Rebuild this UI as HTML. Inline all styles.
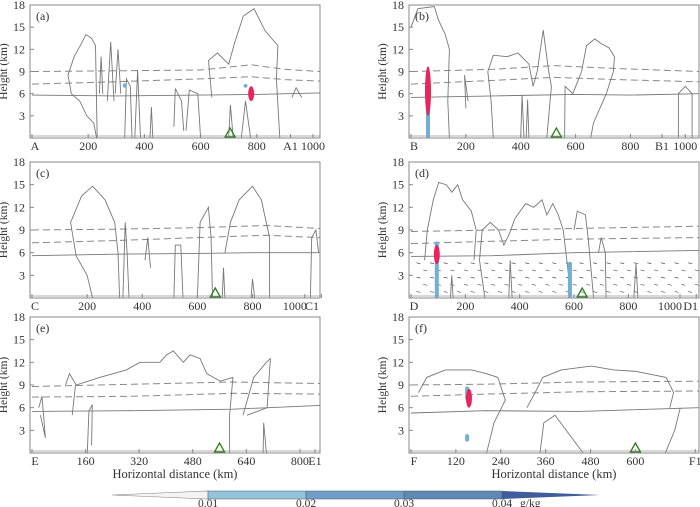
<!DOCTYPE html>
<html><head><meta charset="utf-8"><style>
html,body{margin:0;padding:0;background:#fff;}
svg{display:block;font-family:"Liberation Serif",serif;}
</style></head><body>
<svg id="fig" width="700" height="507" viewBox="0 0 700 507" xmlns="http://www.w3.org/2000/svg"></svg>
<script>
// ---- data ----
const panelNames = ['a','b','c','d','e','f'];
const panelXMax = [1025, 1050, 1045, 1060, 860, 770];
const tickKm = {
  a:[0,200,400,600,800,920,1000], b:[0,200,400,600,800,915,1000], c:[0,200,400,600,800,990,1050],
  d:[0,200,400,600,800,990,1050], e:[0,160,320,480,640,800,845], f:[0,120,240,360,480,600,760]};
const tickLabels = {
  a:['A','200','400','600','800','A1','1000'], b:['B','200','400','600','800','B1','1000'],
  c:['C','200','400','600','800','1000','C1'], d:['D','200','400','600','800','1000','D1'],
  e:['E','160','320','480','640','800','E1'], f:['F','120','240','360','480','600','F1']};
const heightTicks = [3,6,9,12,15,18];
const stationKm = {a:705,b:530,c:665,d:630,e:560,f:600};
const dashHi = {
  a:[[0,9],[300,9.1],[600,9.2],[780,9.9],[900,9.3],[1025,9]],
  b:[[0,9],[300,9.3],[520,9.8],[750,9.4],[1050,9]],
  c:[[0,9],[300,9.1],[600,9.3],[850,9.6],[1045,9.2]],
  d:[[0,8.8],[300,9],[600,9.2],[1060,9.5]],
  e:[[0,8.8],[300,9.1],[600,9.4],[860,9.2]],
  f:[[0,9],[200,9.1],[450,9.4],[770,9.5]]};
const dashLo = {
  a:[[0,7.3],[300,7.6],[600,8],[780,8.3],[900,7.9],[1025,7.7]],
  b:[[0,7.3],[300,7.8],[520,8.2],[750,7.9],[1050,7.6]],
  c:[[0,7.3],[300,7.6],[600,8],[850,8.3],[1045,8]],
  d:[[0,7.2],[300,7.5],[600,7.8],[1060,8]],
  e:[[0,7.4],[300,7.5],[600,7.9],[860,7.8]],
  f:[[0,7.5],[200,7.8],[450,8.1],[770,8.2]]};
const freezing = {
  a:[[0,5.8],[300,5.7],[600,5.8],[800,5.9],[1025,6.1]],
  b:[[0,5.5],[300,5.7],[600,5.9],[800,5.8],[1050,6]],
  c:[[0,5.6],[300,5.8],[600,5.9],[800,6],[1045,6]],
  d:[[0,5.5],[300,5.6],[600,6],[1060,6.3]],
  e:[[0,5.5],[300,5.6],[600,5.8],[860,6.3]],
  f:[[0,5.3],[200,5.6],[450,5.5],[770,6]]};
const clouds = {
  a:[[[230,0],[220,2],[195,3],[170,5],[140,6],[128,8.5],[150,11],[172,12.5],[192,14],[212,13.5],[226,12.5],[232,0]],
     [[240,6],[246,11],[252,6]],[[268,5],[280,13],[292,5]],[[296,6],[306,12],[316,6]],
     [[330,0],[336,8],[350,7],[356,0]],[[366,0],[376,9.2],[386,0]],[[420,0],[425,4.2],[430,0]],
     [[505,1.5],[510,6.7],[532,5],[540,1]],[[548,1],[560,6.5],[590,6],[600,0]],
     [[640,5.5],[628,10.5],[660,11.5],[700,10],[722,13],[752,16.5],[790,17.5],[830,14.5],[875,12.5],[870,8],[882,0]],
     [[700,0],[706,4.5],[716,0]],[[745,0],[760,5],[778,0]],[[925,5.5],[940,6.8],[960,5.5]]],
  b:[[[0,15],[25,17.5],[85,17.8],[100,16],[125,14],[140,12],[134,5],[140,0]],
     [[200,4],[195,8.5],[208,5]],[[300,0],[292,5],[280,9],[300,11.2],[350,11],[390,11.5],[430,10],[445,7],[460,9],[482,14.6],[502,9],[512,7],[495,0]],
     [[560,0],[562,7],[590,6],[622,9],[640,12.5],[670,13.4],[692,12.8],[722,12.2],[742,11],[738,9],[712,6],[665,2],[655,0]],
     [[400,0],[405,5.8],[412,0]],[[420,0],[425,5.2],[430,0]],[[975,0],[975,6],[1000,7],[1025,6],[1025,0]]],
  c:[[[220,0],[200,3],[160,5.6],[140,10],[180,13.5],[220,14.8],[265,13],[300,10],[312,6],[318,0]],
     [[330,0],[338,10],[345,6],[352,0]],[[410,5],[420,8],[430,4]],[[515,0],[520,7],[540,7],[548,0]],
     [[600,0],[610,10],[640,12],[650,8],[655,0]],[[700,6],[720,10],[752,13],[800,14.8],[832,13],[862,8],[862,0]],
     [[690,0],[695,4],[700,0]],[[795,0],[800,2.5],[808,0]],[[1010,0],[1015,8],[1030,9],[1040,6]]],
  d:[[[50,5],[60,9],[82,13],[102,15.3],[130,15],[150,14],[172,15],[190,13],[222,11.5],[240,9],[232,5]],
     [[272,0],[252,5],[262,9],[292,10],[322,9],[342,7],[362,8.5],[382,10.5],[422,12.5],[452,12],[482,13],[500,11],[522,12.5],[542,11],[560,9],[580,3]],
     [[600,9],[612,11.5],[642,11],[652,8],[662,4],[672,0]],[[690,6],[700,8],[715,6],[718,0]],
     [[145,0],[150,3],[155,0]],[[360,0],[365,5],[372,0]],[[820,0],[828,4.5],[835,0]]],
  e:[[[100,9],[112,10.5],[132,9],[202,10],[282,11],[322,12],[382,12],[402,13],[422,13.5],[452,12],[472,13],[502,12.5],[522,10.5],[562,9.5],[600,10],[590,5],[590,0]],
     [[20,6],[30,7.5],[40,2],[25,5]],[[165,0],[170,5.5],[180,6.4],[178,1]],[[120,5],[130,9]],
     [[630,5],[662,10],[700,12],[712,12.5],[702,6],[642,5]],[[690,0],[692,4],[700,0]]],
  f:[[[20,8],[42,10],[92,11],[162,11],[202,10.5],[232,10],[252,7],[222,4],[202,0]],
     [[310,6],[332,8],[352,10],[402,11],[482,11.5],[542,11],[602,10.8],[682,10],[702,8],[692,6]],
     [[345,0],[355,4],[385,5],[460,0]],[[680,0],[705,3],[720,6]]]};
const redKm = {a:[780,5,7],b:[62,3,9.7],d:[95,4.5,7],f:[155,6,8.5]};
const blueKm = {a:[[330,6.8,7.4],[760,6.8,7.3]],b:[[62,0,8]],d:[[95,0,7.5],[585,0,4.8]],f:[[150,1.5,2.5],[150,7,8.8]]};
const cbLabels = ['0.01','0.02','0.03','0.04'];
const cbColors = ['#93c4de','#6e9dc5','#5f88b4'];

const NS='http://www.w3.org/2000/svg';
const svg=document.getElementById('fig');
const boxes={a:[30,5,320,138],b:[409,5,699,138],c:[30,162,320,298],d:[409,162,699,298],e:[30,317,320,453],f:[409,317,699,453]};
function mk(tag,attrs,parent){const e=document.createElementNS(NS,tag);for(const k in attrs)e.setAttribute(k,attrs[k]);(parent||svg).appendChild(e);return e;}
panelNames.forEach((p,i)=>{
  const [L,T,R,B]=boxes[p];
  const X=km=>L+2+km*(R-L-2)/panelXMax[i];
  const Y=h=>B-h*(B-T)/18;
  const g=mk('g',{});
  
  
  const pts=arr=>arr.map(q=>X(q[0]).toFixed(1)+','+Y(q[1]).toFixed(1)).join(' ');
  const d1=mk('polyline',{points:pts(dashHi[p]),fill:'none',stroke:'#888','stroke-width':1,'stroke-dasharray':'7,4'},g);
  
  const d2=mk('polyline',{points:pts(dashLo[p]),fill:'none',stroke:'#888','stroke-width':1,'stroke-dasharray':'7,4'},g);
  
  const fz=mk('polyline',{points:pts(freezing[p]),fill:'none',stroke:'#777','stroke-width':0.9},g);
  
  if(p==='d'){let row=0;for(let h=0.8;h<5.3;h+=0.95){for(let k=20+(row%2)*25;k<1050;k+=50){const a=mk('line',{x1:X(k),y1:Y(h)-0.5,x2:X(k)+4,y2:Y(h)+0.5,stroke:'#555','stroke-width':0.7},g);
    }row++;}}
  clouds[p].forEach(c=>{const l=mk('polyline',{points:pts(c),fill:'none',stroke:'#777','stroke-width':0.9},g);
    });
  (blueKm[p]||[]).forEach(b=>{const e=mk('rect',{x:X(b[0])-2,y:Y(b[2]),width:4,height:Y(b[1])-Y(b[2]),rx:2,fill:'#6fb0d6'},g);
    });
  if(redKm[p]){const r=redKm[p];const e=mk('ellipse',{cx:X(r[0]),cy:(Y(r[1])+Y(r[2]))/2,rx:3,ry:(Y(r[1])-Y(r[2]))/2,fill:'#e8245a'},g);
    }
  const gl=mk('line',{x1:L,y1:B-2,x2:R,y2:B-2,stroke:'#999','stroke-width':0.8},g);
  
  const sx=X(stationKm[p]);
  const st=mk('polygon',{points:`${sx-5},${B-1} ${sx+5},${B-1} ${sx},${B-10}`,fill:'none',stroke:'#2e7d1e','stroke-width':1.3},g);
  
  const bx=mk('rect',{x:L,y:T,width:R-L,height:B-T,fill:'none',stroke:'#888','stroke-width':1},g);
  
  const pl=mk('text',{x:L+6,y:T+15,'font-size':12,fill:'#333'},g);pl.textContent='('+p+')';
  
  heightTicks.forEach(h=>{const tk=mk('line',{x1:L,y1:Y(h),x2:L+4,y2:Y(h),stroke:'#888'},g);
    
    const t=mk('text',{x:L-5,y:Y(h)+4,'font-size':12,'text-anchor':'end',fill:'#333'},g);t.textContent=h;
    });
  const nT=tickKm[p].length;
  tickKm[p].forEach((k,j)=>{const tk=mk('line',{x1:X(k),y1:B,x2:X(k),y2:B-4,stroke:'#888'},g);
    
    let tx=X(k)+(j===0?3:0), anc='middle';
    if((p==='c'||p==='d')&&j===nT-1){tx=R-1;anc='end';}
    if((p==='c'||p==='d')&&j===nT-2){tx=X(k)-10;}
    const t=mk('text',{x:tx,y:B+12,'font-size':12,'text-anchor':anc,fill:'#333'},g);t.textContent=tickLabels[p][j];
    });
  const yl=mk('text',{transform:`translate(${L-23},${(T+B)/2}) rotate(-90)`,'font-size':11.5,'text-anchor':'middle',fill:'#333'},g);
  yl.textContent='Height  (km)';
  
  if(p==='e'||p==='f'){const xl=mk('text',{x:(L+R)/2,y:478,'font-size':12.5,'text-anchor':'middle',fill:'#333'},g);
    xl.textContent='Horizontal  distance  (km)';
    }
});
const cb=mk('g',{});


const lt=mk('polygon',{points:'112,495 208,491 208,499',fill:'#f4f4f4',stroke:'#888','stroke-width':0.6},cb);

cbColors.forEach((c,i)=>{const r=mk('rect',{x:208+i*98,y:491,width:98,height:8,fill:c,stroke:'#556','stroke-width':0.5},cb);
  });
const rt=mk('polygon',{points:'502,491 600,495 502,499',fill:'#3f5d9a'},cb);

cbLabels.forEach((s,i)=>{const t=mk('text',{x:208+i*98,y:507,'font-size':11.5,'text-anchor':'middle',fill:'#333'},cb);t.textContent=s;
  });
const u=mk('text',{x:520,y:507,'font-size':11.5,fill:'#333'},cb);u.textContent='g/kg';

</script>
</body></html>
